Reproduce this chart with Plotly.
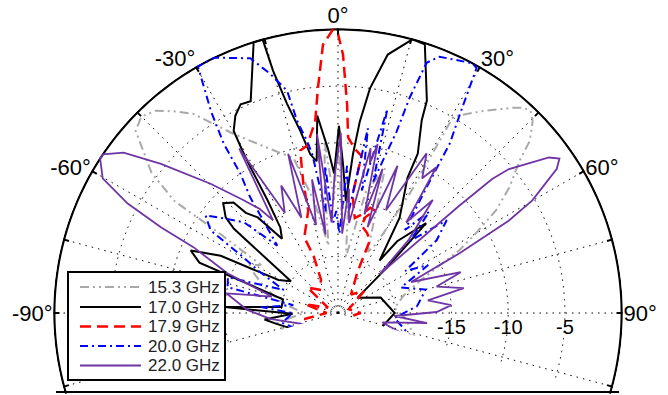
import plotly.graph_objects as go

# ---------------- data (angle in degrees, gain in dB) ----------------
theta_153 = [-130,-110,-99,-90,-80,-70,-62,-58,-56,-55.6,-53,-48,-45,-42,-38.8,-36,-30.3,-23,-16,-12,
             -8,-6,-4.5,-2,0,2,5,8,13,18,21,26,29,31,30.4,35.9,40.5,42,43.6,45.4,48.1,50,
             53.8,57,60,62.7,68,75,85,95,109,120,154.6,180,210,230]
db_153 = [-22,-20,-19.6,-22,-20,-18,-16,-17,-12,-7.5,-4.4,-1,-0.5,-1,-2.2,-3.3,-6.7,-9.2,-10.8,-15,
          -19,-14,-9.8,-15,-9,-16,-14,-20,-14,-11.6,-16,-19,-18,-12.7,-4.9,-3,-1.2,-0.65,-0.4,-0.9,-2.3,-4.1,
          -6.3,-8.4,-11,-13,-17,-19,-20,-19,-17.7,-20,-21,-23,-21,-22]

theta_170 = [-130,-100,-95,-91,-87,-84,-76,-70,-67,-64,-61,-56,-51,-49.6,-46.3,-43.4,-42.6,-40,-37,-34,
             -32,-31,-30.5,-29.8,-27.5,-25,-22.4,-17.3,-15.4,-15,-13.7,-11.7,-9.9,-8,-6,-3.5,-1.6,0.3,2,4,
             5.4,6.5,8.1,10.9,15.2,17.9,22.7,23.5,26.6,27.2,32.9,38.4,39.5,44.4,47,52,70,90,110,
             143,170,200,230]
db_170 = [-22,-19.5,-18.5,-21,-15,-20,-20,-12,-10.9,-13.5,-19,-20,-13.2,-12,-11,-11.6,-13,-14,-16.8,-15.9,
          -13.3,-10,-8.4,-6.5,-5.4,-4.7,-4.8,0,0,-2.9,-6,-8.6,-10.8,-11.5,-7.5,-10.5,-12.7,-8.5,-12,-15.1,
          -10.9,-8,-5,-1.8,0,-0.1,-4.7,-6.5,-9.3,-11.6,-15,-19.1,-16.8,-13.9,-19,-22.8,-21,-20,-21,
          -22.8,-23,-22,-22]

theta_179 = [-130,-100,-90,-75,-62,-50,-38,-27,-23.2,-24,-16.2,-15,-13.1,-10.5,-6.8,-5.1,-3.2,-1,0,1.1,2.5,3.3,
             6,8.5,7,10,14,17,19.8,16,15,20,23.7,25.4,35,50,70,90,110,150,200,230]
db_179 = [-23,-22,-24,-22,-24,-21.5,-22.4,-21.7,-19.6,-17.7,-15.6,-13.2,-10.3,-10,-8,-5.1,-1.3,0,-0.4,-2.2,-6.6,-9.5,
          -10.5,-11,-14.5,-16.5,-16,-15.3,-15.4,-16.2,-17,-17.5,-18,-21,-23,-22,-24,-23,-24,-23.5,-23,-23]

theta_200 = [-130,-100,-90,-85.6,-80,-76.8,-72,-67,-62,-59.5,-57,-53.6,-50.4,-46,-42,-38.5,-37.2,-35,-34,-32.2,
             -29.6,-25.8,-19,-15.8,-12.9,-12,-10.2,-9.2,-7,-5,-3,-1,1,3.5,6,9.2,11,13.6,15,16.4,
             17.9,18.4,19.5,21.6,28.3,29.5,31.2,33.4,35.2,38.9,42,45,49.5,53.6,58,62,68,75,85,95,
             109.6,120,140,180,230]
db_200 = [-22,-20,-21,-18.2,-21,-15,-14.8,-19.8,-17,-15.3,-11.6,-10.5,-11.9,-13.5,-17,-14,-12.2,-10,-7,-4,
          0,0,-1.25,-3.1,-4.9,-7.7,-9.6,-10.8,-16,-12,-17,-16,-18,-12,-16,-8.5,-14,-6.5,-13,-11,
          -8.2,-5,-1.6,-0.7,0,-0.2,-3.9,-7.1,-11.5,-15.6,-13,-16,-12.4,-14.2,-18,-16,-19,-17,-18,-20,
          -17.9,-21,-22,-23,-22]

theta_220 = [-130,-110,-95,-88,-80,-76,-70.2,-65.5,-64.2,-62.5,-60.2,-57,-56,-53.2,-49.9,-44.6,-40,-37,-35,-31,
             -28,-24,-21,-17.4,-14,-11,-9,-6.7,-4,-1.5,0.9,3,5,7,11.2,12,13.2,15,17.2,19,22,25,
             29,32,34,37,40,44,47,48.5,49,49.9,53.6,55.1,56.6,59.9,61.6,63.8,67,71.6,75,78.8,
             82,86,89.4,93,96.4,102,109.6,116,123.7,135,160,200,230]
db_220 = [-22,-22,-19,-17,-15,-19,-14.6,-11,-7.7,-4.1,-1.1,0,0,-1.4,-4.6,-9,-12,-13.5,-15,-8.1,
          -15,-12.7,-16,-10.3,-17,-13,-18,-9.1,-17,-13,-9.1,-18,-14,-17,-10.2,-11.5,-9.7,-16,-11.7,-17,-11,-15,
          -8.9,-11,-9.5,-15,-12,-16,-20,-10.8,-7,-5.3,-1.9,-1.2,-1.9,-5.2,-7.9,-13.1,-18,-13.6,-16,-13.7,
          -17,-15,-16.3,-20,-17.1,-21,-17.9,-21,-18,-23,-22,-23,-22]

series_names = ["15.3 GHz", "17.0 GHz", "17.9 GHz", "20.0 GHz", "22.0 GHz"]

angle_tickvals = list(range(-105, 106, 15))
angle_labels = {0: "0°", 30: "30°", 60: "60°", 90: "90°", -90: "-90°", -60: "-60°", -30: "-30°"}
radial_tickvals = [-20, -15, -10, -5]
radial_ticktext = ["", "-15", "-10", "-5"]
outer_theta = list(range(-107, 108))      # visible span of the outer 0 dB circle
outer_r = [0] * len(outer_theta)

# ---------------- figure ----------------
FONT = "Liberation Sans, Arial, Helvetica, sans-serif"
styles = [
    dict(color="#A9A9A9", width=2, dash="9px,4px,2px,4px,2px,4px"),
    dict(color="black", width=2, dash="solid"),
    dict(color="#FF0000", width=2.5, dash="11px,6px"),
    dict(color="#0000FF", width=2, dash="8px,4px,2px,4px"),
    dict(color="#7035A5", width=1.8, dash="solid"),
]
data = [(theta_153, db_153), (theta_170, db_170), (theta_179, db_179),
        (theta_200, db_200), (theta_220, db_220)]

fig = go.Figure()
# outer 0 dB circle (frame)
fig.add_trace(go.Scatterpolar(theta=outer_theta, r=outer_r, mode="lines", showlegend=False,
                              hoverinfo="skip", line=dict(color="black", width=2.2)))
for (th, r), name, st in zip(data, series_names, styles):
    fig.add_trace(go.Scatterpolar(theta=th, r=r, mode="lines", name=name, line=st, showlegend=False))

# ---- legend drawn as a boxed key (paper coords of the 570x366 plot area) ----
def px(x):
    return (x - 53) / 570.0

def py(y):
    return (394 - y) / 366.0

shapes = [dict(type="rect", xref="paper", yref="paper", x0=px(68), x1=px(225), y0=py(380), y1=py(272),
               line=dict(color="black", width=2), fillcolor="white", layer="above")]
annotations = []
row_y = [287, 307, 326.5, 346, 365.5]
for name, st, yy in zip(series_names, styles, row_y):
    shapes.append(dict(type="line", xref="paper", yref="paper", x0=px(80), x1=px(141), y0=py(yy), y1=py(yy),
                       line=dict(color=st["color"], width=st["width"], dash=st["dash"]), layer="above"))
    annotations.append(dict(text=name, xref="paper", yref="paper", x=px(146), y=py(yy), xanchor="left",
                            yanchor="middle", showarrow=False, font=dict(size=17, family=FONT, color="#222")))
# bottom frame line
shapes.append(dict(type="line", xref="paper", yref="paper", x0=px(56), x1=px(619), y0=py(392), y1=py(392),
                   line=dict(color="black", width=2)))

fig.update_layout(
    width=668, height=395,
    margin=dict(l=53, r=45, t=28, b=1),
    paper_bgcolor="white",
    font=dict(family=FONT, color="black"),
    showlegend=False,
    shapes=shapes,
    annotations=annotations,
    polar=dict(
        sector=[-16.5, 196.5],
        bgcolor="white",
        domain=dict(x=[0, 1], y=[0, 1]),
        angularaxis=dict(
            rotation=90, direction="clockwise",
            tickmode="array", tickvals=angle_tickvals,
            ticktext=[angle_labels.get(v, "") for v in angle_tickvals],
            showline=False,
            ticks="inside", ticklen=6, tickcolor="black", tickwidth=1.5,
            showgrid=True, gridcolor="black", gridwidth=1.3, griddash="1.5px,5px",
            tickfont=dict(size=22, family=FONT, color="black"),
        ),
        radialaxis=dict(
            range=[-25, 0.12], angle=0, tickangle=0,
            tickmode="array", tickvals=radial_tickvals, ticktext=radial_ticktext,
            showline=False, ticks="",
            showgrid=True, gridcolor="black", gridwidth=1.3, griddash="1.5px,5px",
            tickfont=dict(size=20, family=FONT, color="black"),
        ),
    ),
)

# remove the browser's default 8px page margin so the 668x395 figure fills the window exactly
fig.write_html("out.html", config={"displayModeBar": False},
               post_script="document.body.style.margin='0px';")
